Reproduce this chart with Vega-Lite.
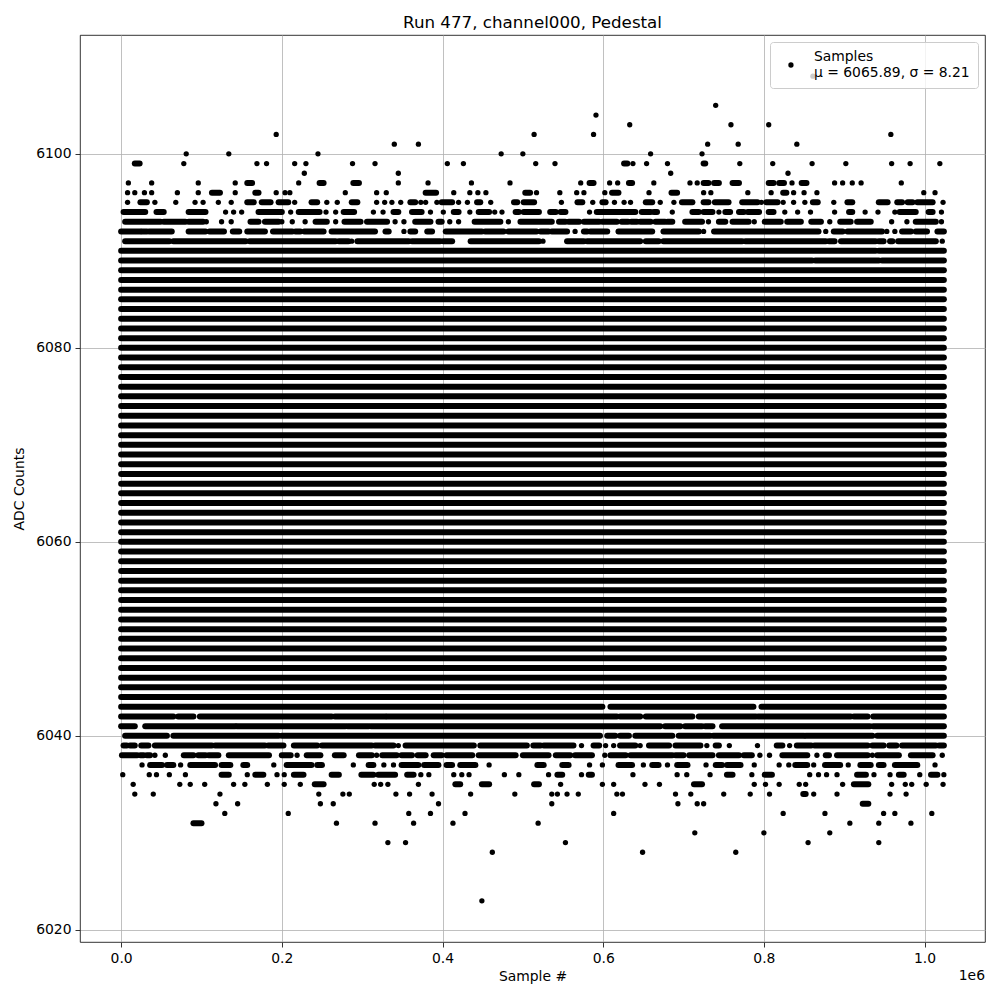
{
"$schema": "https://vega.github.io/schema/vega-lite/v6.json",
"width": 905, "height": 907,
"autosize": {"type": "none"},
"padding": {"left": 80, "top": 35, "right": 15, "bottom": 58},
"title": {"text": "Run 477, channel000, Pedestal", "fontSize": 16.7, "font": "DejaVu Sans", "fontWeight": "normal", "anchor": "middle", "baseline": "bottom", "offset": 7, "dy": 21, "color": "black"},
"config": {"view": {"stroke": "black", "strokeWidth": 0.8}, "font": "DejaVu Sans"},
"datasets": {
"segs": [
{"v":6044,"a":0,"b":1.024},{"v":6045,"a":0,"b":1.024},{"v":6046,"a":0,"b":1.024},{"v":6047,"a":0,"b":1.024},{"v":6048,"a":0,"b":1.024},{"v":6049,"a":0,"b":1.024},{"v":6050,"a":0,"b":1.024},{"v":6051,"a":0,"b":1.024},{"v":6052,"a":0,"b":1.024},{"v":6053,"a":0,"b":1.024},{"v":6054,"a":0,"b":1.024},{"v":6055,"a":0,"b":1.024},{"v":6056,"a":0,"b":1.024},{"v":6057,"a":0,"b":1.024},{"v":6058,"a":0,"b":1.024},{"v":6059,"a":0,"b":1.024},{"v":6060,"a":0,"b":1.024},{"v":6061,"a":0,"b":1.024},{"v":6062,"a":0,"b":1.024},{"v":6063,"a":0,"b":1.024},{"v":6064,"a":0,"b":1.024},{"v":6065,"a":0,"b":1.024},{"v":6066,"a":0,"b":1.024},{"v":6067,"a":0,"b":1.024},{"v":6068,"a":0,"b":1.024},{"v":6069,"a":0,"b":1.024},{"v":6070,"a":0,"b":1.024},{"v":6071,"a":0,"b":1.024},{"v":6072,"a":0,"b":1.024},{"v":6073,"a":0,"b":1.024},{"v":6074,"a":0,"b":1.024},{"v":6075,"a":0,"b":1.024},{"v":6076,"a":0,"b":1.024},{"v":6077,"a":0,"b":1.024},{"v":6078,"a":0,"b":1.024},{"v":6079,"a":0,"b":1.024},{"v":6080,"a":0,"b":1.024},{"v":6081,"a":0,"b":1.024},{"v":6082,"a":0,"b":1.024},{"v":6083,"a":0,"b":1.024},{"v":6084,"a":0,"b":1.024},{"v":6085,"a":0,"b":1.024},{"v":6086,"a":0,"b":1.024},{"v":6087,"a":0,"b":1.024},{"v":6088,"a":0,"b":1.024},
{"v":6089,"a":0,"b":0.860},{"v":6089,"a":0.864,"b":0.943},{"v":6089,"a":0.947,"b":1.024},
{"v":6090,"a":0,"b":0.939},{"v":6090,"a":0.943,"b":1.024},
{"v":6091,"a":0.005,"b":0.060},{"v":6091,"a":0.065,"b":0.155},{"v":6091,"a":0.160,"b":0.267},{"v":6091,"a":0.271,"b":0.283},{"v":6091,"a":0.294,"b":0.358},{"v":6091,"a":0.362,"b":0.397},{"v":6091,"a":0.401,"b":0.412},{"v":6091,"a":0.435,"b":0.520},{"v":6091,"a":0.555,"b":0.576},{"v":6091,"a":0.580,"b":0.646},{"v":6091,"a":0.653,"b":0.669},{"v":6091,"a":0.675,"b":0.773},{"v":6091,"a":0.777,"b":0.877},{"v":6091,"a":0.881,"b":0.888},{"v":6091,"a":0.896,"b":0.939},{"v":6091,"a":0.943,"b":0.949},{"v":6091,"a":0.957,"b":0.960},{"v":6091,"a":0.967,"b":1.014},
{"v":6092,"a":0,"b":0.024},{"v":6092,"a":0.026,"b":0.032},{"v":6092,"a":0.035,"b":0.063},{"v":6092,"a":0.084,"b":0.105},{"v":6092,"a":0.110,"b":0.128},{"v":6092,"a":0.139,"b":0.147},{"v":6092,"a":0.157,"b":0.179},{"v":6092,"a":0.189,"b":0.213},{"v":6092,"a":0.217,"b":0.223},{"v":6092,"a":0.228,"b":0.252},{"v":6092,"a":0.262,"b":0.316},{"v":6092,"a":0.329,"b":0.333},{"v":6092,"a":0.360,"b":0.366},{"v":6092,"a":0.381,"b":0.387},{"v":6092,"a":0.404,"b":0.449},{"v":6092,"a":0.453,"b":0.476},{"v":6092,"a":0.482,"b":0.517},{"v":6092,"a":0.522,"b":0.532},{"v":6092,"a":0.536,"b":0.555},{"v":6092,"a":0.576,"b":0.580},{"v":6092,"a":0.584,"b":0.605},{"v":6092,"a":0.619,"b":0.661},{"v":6092,"a":0.675,"b":0.719},{"v":6092,"a":0.738,"b":0.868},{"v":6092,"a":0.887,"b":0.898},{"v":6092,"a":0.904,"b":0.947},{"v":6092,"a":0.972,"b":0.983},{"v":6092,"a":0.989,"b":1.003},{"v":6092,"a":1.016,"b":1.024},
{"v":6093,"a":0.005,"b":0.049},{"v":6093,"a":0.053,"b":0.080},{"v":6093,"a":0.084,"b":0.102},{"v":6093,"a":0.161,"b":0.171},{"v":6093,"a":0.179,"b":0.196},{"v":6093,"a":0.242,"b":0.256},{"v":6093,"a":0.278,"b":0.298},{"v":6093,"a":0.306,"b":0.331},{"v":6093,"a":0.366,"b":0.385},{"v":6093,"a":0.395,"b":0.399},{"v":6093,"a":0.440,"b":0.472},{"v":6093,"a":0.497,"b":0.536},{"v":6093,"a":0.545,"b":0.553},{"v":6093,"a":0.557,"b":0.570},{"v":6093,"a":0.576,"b":0.595},{"v":6093,"a":0.599,"b":0.617},{"v":6093,"a":0.623,"b":0.631},{"v":6093,"a":0.635,"b":0.642},{"v":6093,"a":0.646,"b":0.659},{"v":6093,"a":0.665,"b":0.677},{"v":6093,"a":0.680,"b":0.686},{"v":6093,"a":0.702,"b":0.723},{"v":6093,"a":0.744,"b":0.752},{"v":6093,"a":0.761,"b":0.781},{"v":6093,"a":0.801,"b":0.821},{"v":6093,"a":0.829,"b":0.846},{"v":6093,"a":0.859,"b":0.871},{"v":6093,"a":0.895,"b":0.908},{"v":6093,"a":0.916,"b":0.933},{"v":6093,"a":0.989,"b":1.014},
{"v":6094,"a":0.003,"b":0.030},{"v":6094,"a":0.044,"b":0.053},{"v":6094,"a":0.084,"b":0.105},{"v":6094,"a":0.171,"b":0.200},{"v":6094,"a":0.221,"b":0.247},{"v":6094,"a":0.277,"b":0.290},{"v":6094,"a":0.339,"b":0.345},{"v":6094,"a":0.362,"b":0.374},{"v":6094,"a":0.414,"b":0.420},{"v":6094,"a":0.445,"b":0.458},{"v":6094,"a":0.491,"b":0.495},{"v":6094,"a":0.501,"b":0.520},{"v":6094,"a":0.534,"b":0.541},{"v":6094,"a":0.547,"b":0.553},{"v":6094,"a":0.592,"b":0.640},{"v":6094,"a":0.648,"b":0.659},{"v":6094,"a":0.663,"b":0.667},{"v":6094,"a":0.711,"b":0.719},{"v":6094,"a":0.725,"b":0.736},{"v":6094,"a":0.752,"b":0.758},{"v":6094,"a":0.769,"b":0.775},{"v":6094,"a":0.780,"b":0.794},{"v":6094,"a":0.806,"b":0.812},{"v":6094,"a":0.906,"b":0.910},{"v":6094,"a":0.969,"b":0.989},{"v":6094,"a":1.005,"b":1.010},
{"v":6095,"a":0.024,"b":0.032},{"v":6095,"a":0.157,"b":0.165},{"v":6095,"a":0.175,"b":0.186},{"v":6095,"a":0.196,"b":0.208},{"v":6095,"a":0.237,"b":0.244},{"v":6095,"a":0.287,"b":0.294},{"v":6095,"a":0.360,"b":0.366},{"v":6095,"a":0.399,"b":0.412},{"v":6095,"a":0.443,"b":0.447},{"v":6095,"a":0.489,"b":0.493},{"v":6095,"a":0.501,"b":0.514},{"v":6095,"a":0.568,"b":0.574},{"v":6095,"a":0.599,"b":0.603},{"v":6095,"a":0.653,"b":0.661},{"v":6095,"a":0.698,"b":0.711},{"v":6095,"a":0.725,"b":0.731},{"v":6095,"a":0.739,"b":0.756},{"v":6095,"a":0.773,"b":0.792},{"v":6095,"a":0.803,"b":0.817},{"v":6095,"a":0.861,"b":0.867},{"v":6095,"a":0.904,"b":0.910},{"v":6095,"a":0.943,"b":0.954},{"v":6095,"a":0.966,"b":0.972},{"v":6095,"a":0.979,"b":0.985},{"v":6095,"a":0.991,"b":1.010},
{"v":6096,"a":0.113,"b":0.123},{"v":6096,"a":0.167,"b":0.171},{"v":6096,"a":0.379,"b":0.392},{"v":6096,"a":0.503,"b":0.509},{"v":6096,"a":0.611,"b":0.619},{"v":6096,"a":0.685,"b":0.692},{"v":6096,"a":0.824,"b":0.828},
{"v":6097,"a":0.157,"b":0.163},{"v":6097,"a":0.247,"b":0.252},{"v":6097,"a":0.289,"b":0.296},{"v":6097,"a":0.583,"b":0.588},{"v":6097,"a":0.632,"b":0.636},{"v":6097,"a":0.725,"b":0.731},{"v":6097,"a":0.738,"b":0.744},{"v":6097,"a":0.761,"b":0.769},{"v":6097,"a":0.806,"b":0.812},{"v":6097,"a":0.819,"b":0.825},{"v":6097,"a":0.847,"b":0.853},
{"v":6099,"a":0.017,"b":0.023},{"v":6099,"a":0.626,"b":0.630},{"v":6099,"a":0.725,"b":0.727},
{"v":6043,"a":0,"b":0.599},{"v":6043,"a":0.609,"b":0.787},{"v":6043,"a":0.797,"b":1.024},
{"v":6042,"a":0,"b":0.065},{"v":6042,"a":0.071,"b":0.090},{"v":6042,"a":0.098,"b":0.262},{"v":6042,"a":0.266,"b":0.329},{"v":6042,"a":0.331,"b":0.617},{"v":6042,"a":0.621,"b":0.646},{"v":6042,"a":0.653,"b":0.711},{"v":6042,"a":0.719,"b":0.790},{"v":6042,"a":0.793,"b":0.908},{"v":6042,"a":0.912,"b":0.929},{"v":6042,"a":0.936,"b":1.024},
{"v":6041,"a":0,"b":0.017},{"v":6041,"a":0.030,"b":0.142},{"v":6041,"a":0.144,"b":0.279},{"v":6041,"a":0.282,"b":0.308},{"v":6041,"a":0.311,"b":0.671},{"v":6041,"a":0.677,"b":0.696},{"v":6041,"a":0.702,"b":0.723},{"v":6041,"a":0.727,"b":0.736},{"v":6041,"a":0.748,"b":0.932},{"v":6041,"a":0.936,"b":1.024},
{"v":6040,"a":0.005,"b":0.057},{"v":6040,"a":0.065,"b":0.196},{"v":6040,"a":0.200,"b":0.596},{"v":6040,"a":0.605,"b":0.615},{"v":6040,"a":0.621,"b":0.632},{"v":6040,"a":0.640,"b":0.686},{"v":6040,"a":0.694,"b":0.733},{"v":6040,"a":0.737,"b":0.850},{"v":6040,"a":0.852,"b":0.935},{"v":6040,"a":0.941,"b":1.024},
{"v":6039,"a":0.003,"b":0.007},{"v":6039,"a":0.011,"b":0.017},{"v":6039,"a":0.025,"b":0.034},{"v":6039,"a":0.042,"b":0.113},{"v":6039,"a":0.117,"b":0.179},{"v":6039,"a":0.183,"b":0.202},{"v":6039,"a":0.215,"b":0.244},{"v":6039,"a":0.250,"b":0.312},{"v":6039,"a":0.316,"b":0.339},{"v":6039,"a":0.354,"b":0.439},{"v":6039,"a":0.447,"b":0.505},{"v":6039,"a":0.513,"b":0.522},{"v":6039,"a":0.526,"b":0.563},{"v":6039,"a":0.588,"b":0.595},{"v":6039,"a":0.621,"b":0.640},{"v":6039,"a":0.657,"b":0.682},{"v":6039,"a":0.690,"b":0.721},{"v":6039,"a":0.740,"b":0.744},{"v":6039,"a":0.816,"b":0.823},{"v":6039,"a":0.841,"b":0.859},{"v":6039,"a":0.863,"b":0.929},{"v":6039,"a":0.935,"b":0.949},{"v":6039,"a":0.956,"b":0.965},{"v":6039,"a":0.972,"b":1.014},{"v":6039,"a":1.018,"b":1.024},
{"v":6038,"a":0.001,"b":0.020},{"v":6038,"a":0.024,"b":0.028},{"v":6038,"a":0.032,"b":0.036},{"v":6038,"a":0.078,"b":0.090},{"v":6038,"a":0.096,"b":0.105},{"v":6038,"a":0.109,"b":0.121},{"v":6038,"a":0.134,"b":0.184},{"v":6038,"a":0.200,"b":0.211},{"v":6038,"a":0.231,"b":0.248},{"v":6038,"a":0.266,"b":0.277},{"v":6038,"a":0.296,"b":0.312},{"v":6038,"a":0.325,"b":0.343},{"v":6038,"a":0.349,"b":0.362},{"v":6038,"a":0.369,"b":0.379},{"v":6038,"a":0.389,"b":0.399},{"v":6038,"a":0.405,"b":0.437},{"v":6038,"a":0.445,"b":0.491},{"v":6038,"a":0.500,"b":0.532},{"v":6038,"a":0.541,"b":0.559},{"v":6038,"a":0.565,"b":0.586},{"v":6038,"a":0.609,"b":0.628},{"v":6038,"a":0.634,"b":0.686},{"v":6038,"a":0.690,"b":0.700},{"v":6038,"a":0.707,"b":0.736},{"v":6038,"a":0.744,"b":0.769},{"v":6038,"a":0.775,"b":0.785},{"v":6038,"a":0.823,"b":0.854},{"v":6038,"a":0.877,"b":0.881},{"v":6038,"a":0.891,"b":0.929},{"v":6038,"a":0.941,"b":0.968},{"v":6038,"a":0.983,"b":1.010},
{"v":6037,"a":0.036,"b":0.051},{"v":6037,"a":0.057,"b":0.065},{"v":6037,"a":0.086,"b":0.117},{"v":6037,"a":0.125,"b":0.136},{"v":6037,"a":0.152,"b":0.157},{"v":6037,"a":0.206,"b":0.237},{"v":6037,"a":0.244,"b":0.250},{"v":6037,"a":0.308,"b":0.314},{"v":6037,"a":0.349,"b":0.370},{"v":6037,"a":0.377,"b":0.395},{"v":6037,"a":0.405,"b":0.412},{"v":6037,"a":0.422,"b":0.441},{"v":6037,"a":0.518,"b":0.526},{"v":6037,"a":0.549,"b":0.557},{"v":6037,"a":0.619,"b":0.636},{"v":6037,"a":0.661,"b":0.669},{"v":6037,"a":0.692,"b":0.705},{"v":6037,"a":0.740,"b":0.748},{"v":6037,"a":0.754,"b":0.771},{"v":6037,"a":0.839,"b":0.854},{"v":6037,"a":0.876,"b":0.895},{"v":6037,"a":0.920,"b":0.933},{"v":6037,"a":0.943,"b":0.949},{"v":6037,"a":0.963,"b":0.991},
{"v":6036,"a":0.125,"b":0.134},{"v":6036,"a":0.167,"b":0.177},{"v":6036,"a":0.215,"b":0.227},{"v":6036,"a":0.262,"b":0.271},{"v":6036,"a":0.299,"b":0.314},{"v":6036,"a":0.320,"b":0.341},{"v":6036,"a":0.356,"b":0.364},{"v":6036,"a":0.543,"b":0.549},{"v":6036,"a":0.582,"b":0.586},{"v":6036,"a":0.754,"b":0.761},{"v":6036,"a":0.801,"b":0.810},{"v":6036,"a":0.916,"b":0.927},{"v":6036,"a":0.968,"b":0.974},{"v":6036,"a":1.008,"b":1.016},
{"v":6035,"a":0.241,"b":0.252},{"v":6035,"a":0.416,"b":0.422},{"v":6035,"a":0.449,"b":0.458},{"v":6035,"a":0.514,"b":0.520},{"v":6035,"a":0.713,"b":0.723},{"v":6035,"a":0.912,"b":0.930},
{"v":6034,"a":0.849,"b":0.852},
{"v":6033,"a":0.923,"b":0.930},
{"v":6031,"a":0.090,"b":0.100}
],
"pts": [
{"v":6108,"x":0.861},{"v":6105,"x":0.740},{"v":6104,"x":0.591},
{"v":6103,"x":0.633},{"v":6103,"x":0.759},{"v":6103,"x":0.806},
{"v":6102,"x":0.193},{"v":6102,"x":0.514},{"v":6102,"x":0.588},{"v":6102,"x":0.958},
{"v":6101,"x":0.340},{"v":6101,"x":0.370},{"v":6101,"x":0.730},{"v":6101,"x":0.768},{"v":6101,"x":0.841},
{"v":6100,"x":0.081},{"v":6100,"x":0.134},{"v":6100,"x":0.245},{"v":6100,"x":0.473},{"v":6100,"x":0.500},{"v":6100,"x":0.659},{"v":6100,"x":0.723},
{"v":6099,"x":0.078},{"v":6099,"x":0.169},{"v":6099,"x":0.181},{"v":6099,"x":0.216},{"v":6099,"x":0.230},{"v":6099,"x":0.288},{"v":6099,"x":0.316},{"v":6099,"x":0.406},{"v":6099,"x":0.426},{"v":6099,"x":0.516},{"v":6099,"x":0.540},{"v":6099,"x":0.637},{"v":6099,"x":0.654},{"v":6099,"x":0.680},{"v":6099,"x":0.770},{"v":6099,"x":0.811},{"v":6099,"x":0.860},{"v":6099,"x":0.902},{"v":6099,"x":0.959},{"v":6099,"x":0.982},{"v":6099,"x":1.019},
{"v":6098,"x":0.228},{"v":6098,"x":0.345},{"v":6098,"x":0.684},{"v":6098,"x":0.830},
{"v":6097,"x":0.009},{"v":6097,"x":0.038},{"v":6097,"x":0.096},{"v":6097,"x":0.142},{"v":6097,"x":0.221},{"v":6097,"x":0.345},{"v":6097,"x":0.382},{"v":6097,"x":0.436},{"v":6097,"x":0.484},{"v":6097,"x":0.572},{"v":6097,"x":0.608},{"v":6097,"x":0.618},{"v":6097,"x":0.663},{"v":6097,"x":0.708},{"v":6097,"x":0.717},{"v":6097,"x":0.835},{"v":6097,"x":0.888},{"v":6097,"x":0.898},{"v":6097,"x":0.910},{"v":6097,"x":0.921},{"v":6097,"x":0.971},
{"v":6096,"x":0.008},{"v":6096,"x":0.017},{"v":6096,"x":0.029},{"v":6096,"x":0.038},{"v":6096,"x":0.070},{"v":6096,"x":0.096},{"v":6096,"x":0.142},{"v":6096,"x":0.193},{"v":6096,"x":0.204},{"v":6096,"x":0.210},{"v":6096,"x":0.279},{"v":6096,"x":0.318},{"v":6096,"x":0.330},{"v":6096,"x":0.414},{"v":6096,"x":0.434},{"v":6096,"x":0.444},{"v":6096,"x":0.454},{"v":6096,"x":0.517},{"v":6096,"x":0.546},{"v":6096,"x":0.567},{"v":6096,"x":0.576},{"v":6096,"x":0.602},{"v":6096,"x":0.657},{"v":6096,"x":0.725},{"v":6096,"x":0.734},{"v":6096,"x":0.780},{"v":6096,"x":0.809},{"v":6096,"x":0.837},{"v":6096,"x":0.850},{"v":6096,"x":0.866},{"v":6096,"x":0.999},{"v":6096,"x":1.013},
{"v":6095,"x":0.008},{"v":6095,"x":0.042},{"v":6095,"x":0.068},{"v":6095,"x":0.092},{"v":6095,"x":0.102},{"v":6095,"x":0.121},{"v":6095,"x":0.137},{"v":6095,"x":0.216},{"v":6095,"x":0.256},{"v":6095,"x":0.269},{"v":6095,"x":0.318},{"v":6095,"x":0.328},{"v":6095,"x":0.337},{"v":6095,"x":0.348},{"v":6095,"x":0.373},{"v":6095,"x":0.379},{"v":6095,"x":0.393},{"v":6095,"x":0.420},{"v":6095,"x":0.431},{"v":6095,"x":0.460},{"v":6095,"x":0.548},{"v":6095,"x":0.587},{"v":6095,"x":0.614},{"v":6095,"x":0.626},{"v":6095,"x":0.634},{"v":6095,"x":0.671},{"v":6095,"x":0.688},{"v":6095,"x":0.797},{"v":6095,"x":0.824},{"v":6095,"x":0.837},{"v":6095,"x":0.851},{"v":6095,"x":0.887},{"v":6095,"x":1.023},
{"v":6094,"x":0.130},{"v":6094,"x":0.140},{"v":6094,"x":0.150},{"v":6094,"x":0.211},{"v":6094,"x":0.255},{"v":6094,"x":0.267},{"v":6094,"x":0.314},{"v":6094,"x":0.326},{"v":6094,"x":0.385},{"v":6094,"x":0.401},{"v":6094,"x":0.434},{"v":6094,"x":0.465},{"v":6094,"x":0.474},{"v":6094,"x":0.583},{"v":6094,"x":0.686},{"v":6094,"x":0.744},{"v":6094,"x":0.826},{"v":6094,"x":0.842},{"v":6094,"x":0.858},{"v":6094,"x":0.888},{"v":6094,"x":0.926},{"v":6094,"x":0.942},{"v":6094,"x":0.963},{"v":6094,"x":1.021},
{"v":6093,"x":0.106},{"v":6093,"x":0.125},{"v":6093,"x":0.137},{"v":6093,"x":0.200},{"v":6093,"x":0.213},{"v":6093,"x":0.229},{"v":6093,"x":0.267},{"v":6093,"x":0.341},{"v":6093,"x":0.352},{"v":6093,"x":0.409},{"v":6093,"x":0.420},{"v":6093,"x":0.482},{"v":6093,"x":0.731},{"v":6093,"x":0.788},{"v":6093,"x":0.882},{"v":6093,"x":0.959},{"v":6093,"x":0.978},{"v":6093,"x":1.021},
{"v":6092,"x":0.352},{"v":6092,"x":0.565},{"v":6092,"x":0.725},{"v":6092,"x":0.877},{"v":6092,"x":0.953},{"v":6092,"x":0.963},
{"v":6091,"x":0.287},{"v":6091,"x":0.525},{"v":6091,"x":1.022},
{"v":6039,"x":0.345},{"v":6039,"x":0.573},{"v":6039,"x":0.603},{"v":6039,"x":0.613},{"v":6039,"x":0.646},{"v":6039,"x":0.729},{"v":6039,"x":0.757},{"v":6039,"x":0.792},{"v":6039,"x":0.832},
{"v":6038,"x":0.042},{"v":6038,"x":0.055},{"v":6038,"x":0.219},{"v":6038,"x":0.318},{"v":6038,"x":0.602},{"v":6038,"x":0.795},{"v":6038,"x":0.807},{"v":6038,"x":0.866},{"v":6038,"x":0.935},{"v":6038,"x":1.022},
{"v":6037,"x":0.026},{"v":6037,"x":0.074},{"v":6037,"x":0.190},{"v":6037,"x":0.289},{"v":6037,"x":0.327},{"v":6037,"x":0.339},{"v":6037,"x":0.458},{"v":6037,"x":0.583},{"v":6037,"x":0.599},{"v":6037,"x":0.650},{"v":6037,"x":0.680},{"v":6037,"x":0.728},{"v":6037,"x":0.788},{"v":6037,"x":0.819},{"v":6037,"x":0.831},{"v":6037,"x":0.862},{"v":6037,"x":0.905},{"v":6037,"x":1.013},
{"v":6036,"x":0.002},{"v":6036,"x":0.035},{"v":6036,"x":0.044},{"v":6036,"x":0.060},{"v":6036,"x":0.080},{"v":6036,"x":0.157},{"v":6036,"x":0.194},{"v":6036,"x":0.203},{"v":6036,"x":0.373},{"v":6036,"x":0.383},{"v":6036,"x":0.414},{"v":6036,"x":0.424},{"v":6036,"x":0.433},{"v":6036,"x":0.477},{"v":6036,"x":0.495},{"v":6036,"x":0.532},{"v":6036,"x":0.573},{"v":6036,"x":0.637},{"v":6036,"x":0.692},{"v":6036,"x":0.704},{"v":6036,"x":0.733},{"v":6036,"x":0.785},{"v":6036,"x":0.857},{"v":6036,"x":0.868},{"v":6036,"x":0.878},{"v":6036,"x":0.891},{"v":6036,"x":0.937},{"v":6036,"x":0.957},{"v":6036,"x":0.994},{"v":6036,"x":1.024},
{"v":6035,"x":0.015},{"v":6035,"x":0.073},{"v":6035,"x":0.086},{"v":6035,"x":0.104},{"v":6035,"x":0.140},{"v":6035,"x":0.154},{"v":6035,"x":0.182},{"v":6035,"x":0.203},{"v":6035,"x":0.223},{"v":6035,"x":0.315},{"v":6035,"x":0.323},{"v":6035,"x":0.332},{"v":6035,"x":0.370},{"v":6035,"x":0.547},{"v":6035,"x":0.599},{"v":6035,"x":0.613},{"v":6035,"x":0.652},{"v":6035,"x":0.670},{"v":6035,"x":0.788},{"v":6035,"x":0.802},{"v":6035,"x":0.819},{"v":6035,"x":0.844},{"v":6035,"x":0.852},{"v":6035,"x":0.898},{"v":6035,"x":0.959},{"v":6035,"x":0.976},{"v":6035,"x":0.984},{"v":6035,"x":1.002},{"v":6035,"x":1.023},
{"v":6034,"x":0.017},{"v":6034,"x":0.040},{"v":6034,"x":0.123},{"v":6034,"x":0.246},{"v":6034,"x":0.276},{"v":6034,"x":0.284},{"v":6034,"x":0.342},{"v":6034,"x":0.359},{"v":6034,"x":0.387},{"v":6034,"x":0.435},{"v":6034,"x":0.490},{"v":6034,"x":0.536},{"v":6034,"x":0.543},{"v":6034,"x":0.555},{"v":6034,"x":0.569},{"v":6034,"x":0.617},{"v":6034,"x":0.624},{"v":6034,"x":0.690},{"v":6034,"x":0.709},{"v":6034,"x":0.750},{"v":6034,"x":0.783},{"v":6034,"x":0.807},{"v":6034,"x":0.862},{"v":6034,"x":0.891},{"v":6034,"x":0.957},{"v":6034,"x":0.977},
{"v":6033,"x":0.118},{"v":6033,"x":0.145},{"v":6033,"x":0.248},{"v":6033,"x":0.264},{"v":6033,"x":0.395},{"v":6033,"x":0.536},{"v":6033,"x":0.693},{"v":6033,"x":0.717},{"v":6033,"x":0.725},
{"v":6032,"x":0.129},{"v":6032,"x":0.208},{"v":6032,"x":0.358},{"v":6032,"x":0.385},{"v":6032,"x":0.428},{"v":6032,"x":0.613},{"v":6032,"x":0.824},{"v":6032,"x":0.876},{"v":6032,"x":0.949},{"v":6032,"x":0.963},{"v":6032,"x":1.009},
{"v":6031,"x":0.268},{"v":6031,"x":0.316},{"v":6031,"x":0.364},{"v":6031,"x":0.413},{"v":6031,"x":0.519},{"v":6031,"x":0.907},{"v":6031,"x":0.943},{"v":6031,"x":0.983},
{"v":6030,"x":0.714},{"v":6030,"x":0.800},{"v":6030,"x":0.882},
{"v":6029,"x":0.332},{"v":6029,"x":0.354},{"v":6029,"x":0.553},{"v":6029,"x":0.855},{"v":6029,"x":0.943},
{"v":6028,"x":0.462},{"v":6028,"x":0.649},{"v":6028,"x":0.765},
{"v":6023,"x":0.449}
]
},
"layer": [
{"data": {"name": "segs"},
 "mark": {"type": "rule", "strokeWidth": 6, "strokeCap": "round", "color": "black"},
 "encoding": {
  "x": {"field": "a", "type": "quantitative", "scale": {"domain": [-0.0512, 1.0752], "nice": false, "zero": false},
   "axis": {"values": [0, 0.2, 0.4, 0.6, 0.8, 1.0], "format": ".1f", "title": "Sample #", "grid": true, "gridColor": "#b0b0b0", "gridWidth": 0.8, "domain": false, "tickColor": "black", "tickSize": 5, "tickWidth": 0.8, "labelFontSize": 13.9, "labelColor": "black", "labelFont": "DejaVu Sans", "labelPadding": 4, "labelFlush": false, "titleFontSize": 13.9, "titleFontWeight": "normal", "titleColor": "black", "titleFont": "DejaVu Sans", "titlePadding": 5}},
  "x2": {"field": "b"},
  "y": {"field": "v", "type": "quantitative", "scale": {"domain": [6018.75, 6112.25], "nice": false, "zero": false},
   "axis": {"values": [6020, 6040, 6060, 6080, 6100], "format": "d", "title": "ADC Counts", "grid": true, "gridColor": "#b0b0b0", "gridWidth": 0.8, "domain": false, "tickColor": "black", "tickSize": 5, "tickWidth": 0.8, "labelFontSize": 13.9, "labelColor": "black", "labelFont": "DejaVu Sans", "labelPadding": 4, "labelFlush": false, "titleFontSize": 13.9, "titleFontWeight": "normal", "titleColor": "black", "titleFont": "DejaVu Sans", "titlePadding": 9}}
 }},
{"data": {"name": "pts"},
 "mark": {"type": "circle", "size": 28, "opacity": 1},
 "encoding": {
  "x": {"field": "x", "type": "quantitative"},
  "y": {"field": "v", "type": "quantitative"},
  "color": {"datum": "Samples", "type": "nominal", "scale": {"range": ["black"]},
   "legend": {"title": null, "orient": "top-right", "offset": 7, "labelExpr": "['Samples', 'μ = 6065.89, σ = 8.21']", "labelFontSize": 13.9, "labelColor": "black", "labelFont": "DejaVu Sans", "symbolType": "circle", "symbolSize": 28, "symbolStrokeWidth": 0, "symbolOpacity": 1, "fillColor": "rgba(255,255,255,0.8)", "strokeColor": "#cccccc", "cornerRadius": 3, "padding": 8, "labelOffset": 16, "symbolOffset": 6,
    "encoding": {"symbols": {"y": {"value": 15}}}}}
 }},
{"data": {"values": [{}]},
 "mark": {"type": "text", "align": "right", "baseline": "top", "dy": 27, "fontSize": 13.9, "font": "DejaVu Sans", "color": "black"},
 "encoding": {"x": {"datum": 1.0752}, "y": {"datum": 6018.75}, "text": {"value": "1e6"}}}
]
}
